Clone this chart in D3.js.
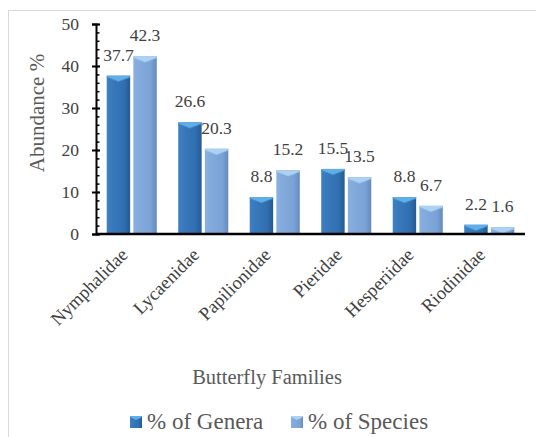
<!DOCTYPE html>
<html>
<head>
<meta charset="utf-8">
<script src="https://cdn.jsdelivr.net/npm/d3@7"></script>
<style>
  body { margin: 0; background: #fff; }
  svg text { font-family: 'Liberation Serif', 'Times New Roman', Times, serif !important; }
</style>
</head>
<body>
<div id="Canvas"></div>
<script>
// data
let families = ["Nymphalidae", "Lycaenidae", "Papilionidae", "Pieridae", "Hesperiidae", "Riodinidae"]
let genera = [37.7, 26.6, 8.8, 15.5, 8.8, 2.2]
let species = [42.3, 20.3, 15.2, 13.5, 6.7, 1.6]
let seriesNames = ["% of Genera", "% of Species"]
let yTicks = [0, 10, 20, 30, 40, 50]

let svg = d3.select("#Canvas")
    .append("svg")
    .attr("width", 536)
    .attr("height", 437)

// chart frame
svg.append("rect")
    .attr("x", 8.5).attr("y", 10.5)
    .attr("width", 540).attr("height", 440)
    .attr("fill", "none")
    .attr("stroke", "#d9d9d9")

let xScale = d3.scaleBand()
    .domain(families)
    .range([96, 525])
    .paddingInner(0.3)
    .paddingOuter(0.15)
let subScale = d3.scaleBand()
    .domain(seriesNames)
    .range([0, xScale.bandwidth()])
    .paddingInner(0.12)
let yScale = d3.scaleLinear()
    .domain([0, 50])
    .range([234, 24])

// gradients for the bevelled bars
let defs = svg.append("defs")
function makeGrad(id, stops) {
    let g = defs.append("linearGradient").attr("id", id)
        .attr("x1", "0").attr("x2", "1").attr("y1", "0").attr("y2", "0")
    stops.forEach(s => g.append("stop").attr("offset", s[0]).attr("stop-color", s[1]))
}
makeGrad("gGen", [[0, "#3f7fc0"], [0.15, "#3a7bbd"], [0.75, "#306eb0"], [1, "#245a93"]])
makeGrad("gSpe", [[0, "#8ab0e0"], [0.15, "#86acdd"], [0.75, "#7aa2d6"], [1, "#6589bd"]])

let colors = { "% of Genera": "url(#gGen)", "% of Species": "url(#gSpe)" }
let topColors = { "% of Genera": "#5eaee8", "% of Species": "#acd2f3" }
let rimColors = { "% of Genera": "#3f86c8", "% of Species": "#92bce6" }

let rows = []
families.forEach((f, i) => {
    rows.push({ fam: f, s: "% of Genera", v: genera[i] })
    rows.push({ fam: f, s: "% of Species", v: species[i] })
})

// bars
let bars = svg.selectAll("g.bar")
    .data(rows)
    .enter()
    .append("g")
    .attr("class", "bar")
bars.append("rect")
    .attr("x", d => xScale(d.fam) + subScale(d.s))
    .attr("y", d => yScale(d.v))
    .attr("width", subScale.bandwidth())
    .attr("height", d => yScale(0) - yScale(d.v))
    .attr("fill", d => colors[d.s])
// top bevel
bars.append("path")
    .attr("d", d => {
        let x0 = xScale(d.fam) + subScale(d.s)
        let w = subScale.bandwidth()
        let y0 = yScale(d.v)
        let h = Math.min(6, yScale(0) - y0)
        return `M${x0},${y0}H${x0 + w}V${y0 + 1.5}L${x0 + w / 2},${y0 + h}L${x0},${y0 + 1.5}Z`
    })
    .attr("fill", d => topColors[d.s])
bars.append("path")
    .attr("d", d => {
        let x0 = xScale(d.fam) + subScale(d.s)
        let w = subScale.bandwidth()
        let y0 = yScale(d.v)
        let h = Math.min(6, yScale(0) - y0)
        return `M${x0},${y0 + 1.5}L${x0 + w / 2},${y0 + h}L${x0 + w},${y0 + 1.5}`
    })
    .attr("fill", "none")
    .attr("stroke", d => rimColors[d.s])
    .attr("stroke-width", 0.8)

// value labels
svg.selectAll("text.val")
    .data(rows)
    .enter()
    .append("text")
    .attr("class", "val")
    .attr("x", d => xScale(d.fam) + subScale(d.s) + subScale.bandwidth() / 2)
    .attr("y", d => yScale(d.v) - 15)
    .attr("text-anchor", "middle")
    .attr("font-size", 17.5)
    .attr("fill", "#404040")
    .text(d => d.v.toFixed(1))

// y axis
let yAxis = d3.axisLeft(yScale).tickValues(yTicks).tickSize(4).tickPadding(13)
let gy = svg.append("g").attr("transform", "translate(96,0)").call(yAxis)
gy.select(".domain").attr("stroke", "#000").attr("stroke-width", 2)
gy.selectAll(".tick line").attr("stroke", "#000").attr("stroke-width", 2).attr("x2", -4).attr("x1", 4)
gy.selectAll(".tick text").attr("font-size", 17.5).attr("fill", "#404040")
let minor = d3.axisRight(yScale).tickValues(d3.range(0, 51, 2)).tickSize(3.5).tickFormat("")
let gm = svg.append("g").attr("transform", "translate(96,0)").call(minor)
gm.select(".domain").remove()
gm.selectAll(".tick line").attr("stroke", "#000").attr("stroke-width", 1.5)

// x axis
let xAxis = d3.axisBottom(xScale).tickSize(0).tickFormat("")
let gx = svg.append("g").attr("transform", "translate(0,234)").call(xAxis)
gx.select(".domain").attr("stroke", "#000").attr("stroke-width", 2.5)
    .attr("d", "M96,0H525")

// category labels
svg.selectAll("text.cat")
    .data(families)
    .enter()
    .append("text")
    .attr("class", "cat")
    .attr("transform", d => `translate(${xScale(d) + xScale.bandwidth() / 2 - 3},256) rotate(-45)`)
    .attr("text-anchor", "end")
    .attr("font-size", 18.5)
    .attr("fill", "#404040")
    .text(d => d)

// axis titles
svg.append("text")
    .attr("transform", "translate(44,113) rotate(-90)")
    .attr("text-anchor", "middle")
    .attr("font-size", 21)
    .attr("fill", "#595959")
    .text("Abundance %")
svg.append("text")
    .attr("x", 267).attr("y", 384)
    .attr("text-anchor", "middle")
    .attr("font-size", 20.5)
    .attr("fill", "#595959")
    .text("Butterfly Families")

// legend
let legendX = [130, 291]
let lg = svg.selectAll("g.leg")
    .data(seriesNames)
    .enter()
    .append("g")
    .attr("class", "leg")
    .attr("transform", (d, i) => `translate(${legendX[i]},416)`)
lg.append("rect")
    .attr("width", 12).attr("height", 12)
    .attr("fill", d => colors[d])
lg.append("path")
    .attr("d", "M0,0H12V1L6,4L0,1Z")
    .attr("fill", d => topColors[d])
lg.append("text")
    .attr("x", 17).attr("y", 13)
    .attr("font-size", 23)
    .attr("fill", "#595959")
    .text(d => d)
</script>
</body>
</html>
